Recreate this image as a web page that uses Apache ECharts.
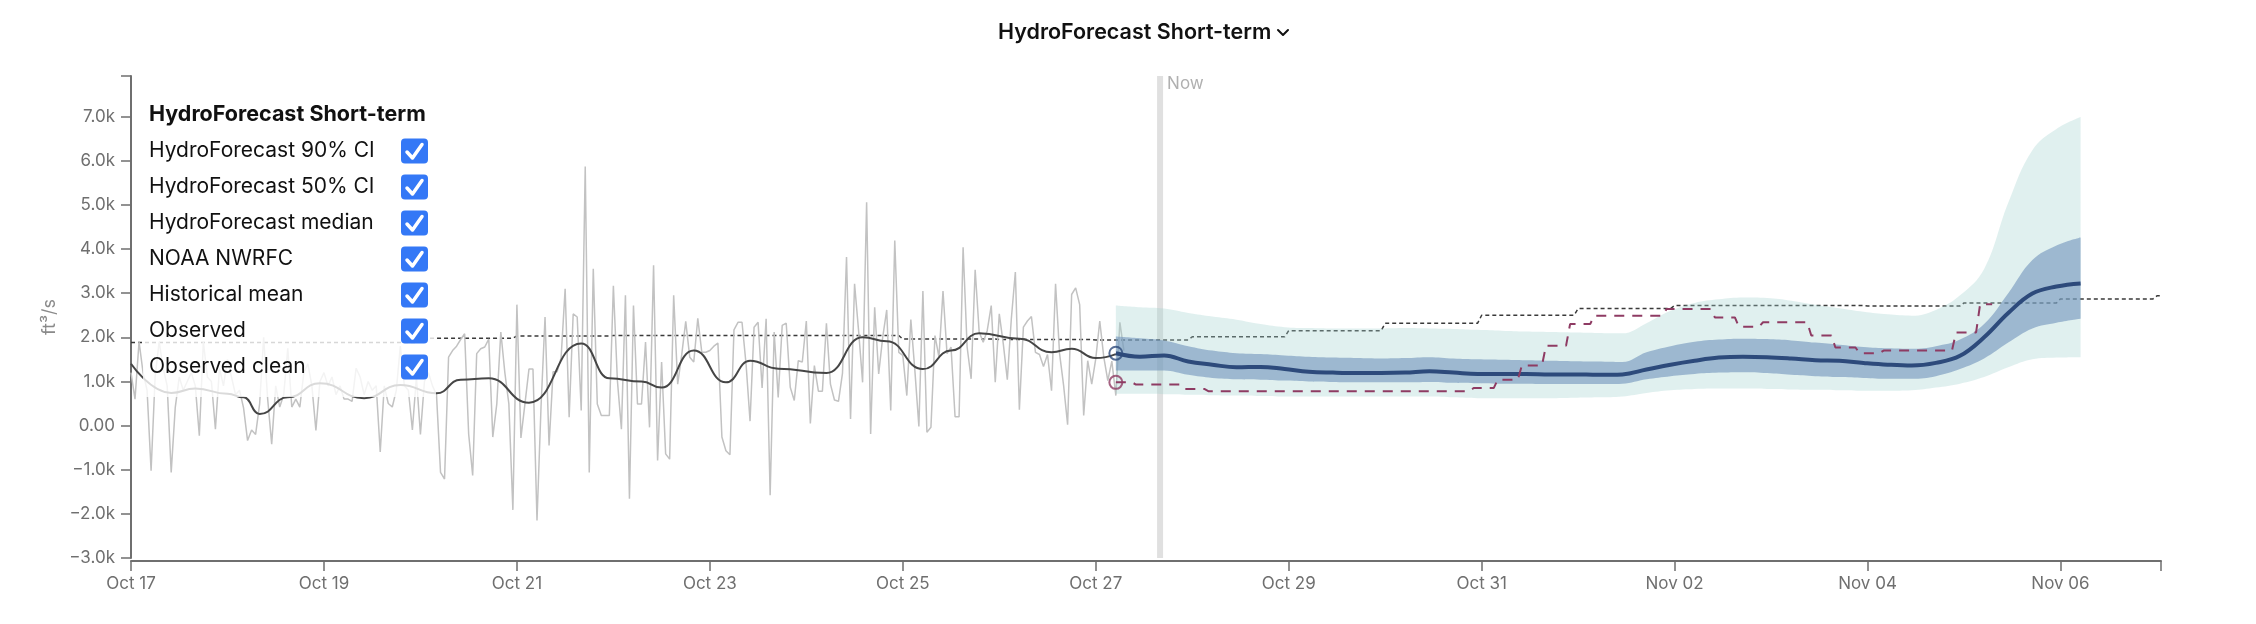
<!DOCTYPE html>
<html><head><meta charset="utf-8">
<script src="https://cdn.jsdelivr.net/npm/echarts@6/dist/echarts.min.js"></script>
<style>html,body{margin:0;padding:0;background:#fff}#c{width:2256px;height:624px}</style>
</head><body><div id="c"></div>
<script>
// ---------- DATA (flows in thousand ft³/s, time in hours since Oct 17 00:00) ----------
const xTickLabels = ['Oct 17','Oct 19','Oct 21','Oct 23','Oct 25','Oct 27','Oct 29','Oct 31','Nov 02','Nov 04','Nov 06'];
const yTickLabels = ['−3.0k','−2.0k','−1.0k','0.00','1.0k','2.0k','3.0k','4.0k','5.0k','6.0k','7.0k'];
const legendTitle = 'HydroForecast Short-term';
const legendItems = ['HydroForecast 90% CI','HydroForecast 50% CI','HydroForecast median','NOAA NWRFC','Historical mean','Observed','Observed clean'];

// hourly observed flow, Oct 17 00:00 .. Oct 27 07:00
const observedKcfs = [
 1.2,0.6,1.9,1.2,0.8,-1.02,1.1,1.9,1.3,0.9,
 -1.06,0.4,1.1,0.8,1.0,1.2,0.9,-0.23,1.9,1.1,
 1.0,-0.08,1.3,0.9,1.5,1.1,0.7,0.8,0.4,-0.34,
 -0.1,-0.2,0.49,2.0,0.6,-0.42,0.9,0.42,0.7,1.75,
 0.42,0.6,0.42,1.2,1.4,0.9,-0.11,1.0,1.2,0.9,
 1.1,0.7,0.9,0.6,0.6,0.55,1.3,1.1,0.7,1.0,
 0.8,0.9,-0.6,0.9,0.5,0.42,0.8,1.8,0.9,0.8,
 -0.1,1.1,-0.2,1.0,1.2,0.9,0.7,-1.06,-1.21,1.55,1.7,
 1.8,1.95,2.08,-0.19,-1.13,1.63,1.74,1.78,1.96,-0.26,
 0.49,2.12,1.2,0.49,-1.91,2.74,-0.28,0.49,1.28,1.28,
 -2.15,0.42,2.46,-0.45,1.22,1.22,1.54,3.10,0.19,2.53,
 2.46,0.34,5.87,-1.06,3.55,0.49,0.23,0.23,0.23,3.17,
 1.02,-0.08,2.95,-1.66,2.72,0.49,0.49,1.89,-0.04,3.63,
 -0.79,1.44,-0.64,-0.76,2.95,0.94,1.6,2.36,1.55,1.44,
 2.43,1.66,1.66,1.7,1.8,1.87,-0.26,-0.57,-0.66,2.17,
 2.34,2.34,1.40,0.10,2.23,2.34,0.85,2.42,-1.58,2.12,
 0.64,2.27,
 2.32,0.87,0.57,1.47,1.44,2.37,0.05,1.36,0.78,0.78,
 2.32,0.94,0.58,0.55,1.19,3.82,0.15,3.21,2.15,0.98,
 5.06,-0.19,2.68,1.17,2.0,2.62,0.34,4.19,1.66,1.59,
 0.68,2.40,1.25,-0.02,3.05,-0.15,-0.04,2.04,1.55,3.05,
 1.63,1.78,0.2,0.2,4.04,1.78,1.06,3.53,2.12,1.89,
 2.15,2.72,0.98,2.53,1.85,1.04,2.42,3.48,0.36,2.23,
 2.37,2.47,1.66,1.61,1.34,1.61,0.79,3.21,1.63,0.91,
 0.02,2.97,3.12,2.74,0.23,1.47,0.94,1.51,2.37,1.55,
 1.02,1.46,0.68,2.34,1.70
];

const observedCleanHours = [0,10,16,24,28,32,39,47,58,67,76,82,89,99,112,119,127,132,140,148,154,161,173,182,188,197,204,211,221,229,234,240,245];
const observedCleanKcfs  = [1.40,0.74,0.84,0.72,0.64,0.26,0.64,0.96,0.62,0.92,0.73,1.04,1.07,0.52,1.86,1.07,1.00,0.86,1.70,0.98,1.47,1.29,1.19,2.00,1.91,1.28,1.70,2.09,1.97,1.66,1.74,1.53,1.62];

// forecast every 6 h, Oct 27 05:00 .. Nov 06 05:00
const forecastHours = [245,251,257,263,269,275,281,287,293,299,305,311,317,323,329,335,341,347,353,359,365,371,377,383,389,395,401,407,413,419,425,431,437,443,449,455,461,467,473,479,485];
const medianKcfs = [1.64,1.56,1.59,1.45,1.38,1.32,1.33,1.28,1.22,1.20,1.19,1.19,1.20,1.23,1.20,1.17,1.17,1.17,1.16,1.16,1.15,1.16,1.27,1.38,1.47,1.54,1.56,1.55,1.52,1.48,1.47,1.42,1.38,1.36,1.42,1.58,2.00,2.55,2.99,3.15,3.22];
const p05Kcfs = [0.72,0.72,0.71,0.70,0.69,0.68,0.67,0.66,0.66,0.66,0.66,0.66,0.66,0.66,0.64,0.62,0.62,0.62,0.62,0.63,0.64,0.66,0.74,0.80,0.83,0.84,0.84,0.83,0.82,0.81,0.80,0.79,0.79,0.80,0.86,0.95,1.10,1.32,1.50,1.54,1.55];
const p25Kcfs = [1.25,1.25,1.25,1.15,1.08,1.05,1.04,1.02,1.00,0.99,0.98,0.98,0.98,0.99,0.97,0.96,0.95,0.95,0.94,0.94,0.94,0.95,1.05,1.12,1.17,1.20,1.21,1.19,1.15,1.12,1.10,1.08,1.06,1.06,1.12,1.28,1.52,1.88,2.20,2.33,2.42];
const p75Kcfs = [2.02,1.98,1.93,1.80,1.70,1.64,1.62,1.59,1.56,1.54,1.53,1.52,1.53,1.55,1.52,1.50,1.49,1.48,1.47,1.46,1.45,1.44,1.66,1.80,1.90,1.95,1.97,1.96,1.93,1.88,1.83,1.78,1.75,1.74,1.80,1.95,2.30,3.00,3.75,4.08,4.26];
const p95Kcfs = [2.72,2.68,2.65,2.55,2.47,2.40,2.30,2.23,2.21,2.20,2.20,2.20,2.21,2.20,2.19,2.17,2.15,2.13,2.12,2.11,2.10,2.09,2.32,2.60,2.78,2.86,2.90,2.89,2.83,2.74,2.66,2.58,2.52,2.49,2.62,2.95,3.55,5.05,6.24,6.72,6.99];

// NOAA NWRFC 6-hourly blocks
const noaaBlockStartHours = [245,250,262,268,334,340,346,352,358,364,382,394,400,406,418,424,430,436,454,460];
const noaaBlockKcfs       = [0.98,0.93,0.83,0.78,0.85,1.04,1.36,1.81,2.30,2.49,2.64,2.45,2.24,2.34,2.04,1.77,1.64,1.70,2.11,2.75];
const noaaEndHour = 463;

// historical mean, one value per day from Oct 17 to Nov 07
const histMeanDailyKcfs = [1.88,1.88,1.88,1.98,2.03,2.04,2.04,2.04,1.96,1.95,1.94,2.01,2.15,2.32,2.50,2.65,2.72,2.72,2.71,2.78,2.87,2.94];

const nowHour = 256;
const xMaxHour = 505;
const yMin = -3000, yMax = 7920;

// ---------- BUILD ----------
// series live on a (hidden) time axis so that stacking is done on the flow value;
// a visible value axis in hours carries the ticks and labels.
const HOUR = 3600 * 1000;
const K = 1000;
const pt = (h, v) => [h * HOUR, v * K];
const observedData = observedKcfs.map((v, h) => pt(h, v));
const cleanData = observedCleanHours.map((h, i) => pt(h, observedCleanKcfs[i]));
const medianData = forecastHours.map((h, i) => pt(h, medianKcfs[i]));
const p05Data = forecastHours.map((h, i) => pt(h, p05Kcfs[i]));
const band90Data = forecastHours.map((h, i) => pt(h, p95Kcfs[i] - p05Kcfs[i]));
const p25Data = forecastHours.map((h, i) => pt(h, p25Kcfs[i]));
const band50Data = forecastHours.map((h, i) => pt(h, p75Kcfs[i] - p25Kcfs[i]));

const noaaData = [];
noaaBlockStartHours.forEach((h, i) => {
  const v = noaaBlockKcfs[i];
  noaaData.push(pt(h, v));
  if (i < noaaBlockStartHours.length - 1) noaaData.push(pt(noaaBlockStartHours[i + 1] - 1, v));
  else noaaData.push(pt(noaaEndHour, v));
});
const histData = [];
histMeanDailyKcfs.forEach((v, d) => {
  histData.push(pt(d * 24, v));
  histData.push(pt(Math.min(d * 24 + 23, xMaxHour), v));
});
histData.push(pt(xMaxHour, histMeanDailyKcfs[histMeanDailyKcfs.length - 1]));

const FONT = 'Inter, "Noto Sans", sans-serif';
const AXIS_COLOR = '#6f6f6f';

const chart = echarts.init(document.getElementById('c'), null, { renderer: 'canvas' });

const noLine = { opacity: 0, width: 0 };
const option = {
  animation: false,
  backgroundColor: '#ffffff',
  title: {
    text: 'HydroForecast Short-term',
    left: 993, top: 17,
    textStyle: { fontFamily: FONT, fontSize: 21.5, fontWeight: 600, color: '#111' }
  },
  grid: { left: 131, right: 95, top: 76, bottom: 66, containLabel: false },
  xAxis: [
    { type: 'time', min: 0, max: xMaxHour * HOUR, show: false, position: 'top' },
    {
      type: 'value', min: 0, max: xMaxHour, interval: 48, offset: 3, position: 'bottom',
      axisLine: { show: true, lineStyle: { color: AXIS_COLOR, width: 2 } },
      axisTick: { show: true, length: 10, lineStyle: { color: AXIS_COLOR, width: 1.5 } },
      splitLine: { show: false },
      axisLabel: {
        margin: 14, fontFamily: FONT, fontSize: 17, color: AXIS_COLOR,
        formatter: v => (v % 48 === 0 ? (xTickLabels[v / 48] || '') : '')
      }
    }
  ],
  yAxis: {
    type: 'value', min: yMin, max: yMax, interval: 1000,
    name: 'ft³/s', nameLocation: 'middle', nameGap: 70, nameRotate: 90,
    nameTextStyle: { fontFamily: FONT, fontSize: 18, color: '#8a8a8a' },
    axisLine: { show: true, lineStyle: { color: AXIS_COLOR, width: 2 } },
    axisTick: { show: true, length: 10, lineStyle: { color: AXIS_COLOR, width: 1.5 } },
    splitLine: { show: false },
    axisLabel: {
      margin: 16, fontFamily: FONT, fontSize: 17, color: AXIS_COLOR,
      formatter: v => (v % 1000 === 0 ? (yTickLabels[(v - yMin) / 1000] || '') : '')
    }
  },
  series: [
    { name: 'Now', type: 'line', data: [[nowHour * HOUR, yMin], [nowHour * HOUR, yMax]], symbol: 'none', silent: true,
      lineStyle: { color: '#e0e0e0', width: 6 }, z: 1 },
    { name: 'Historical mean', type: 'line', data: histData, symbol: 'none',
      lineStyle: { color: '#3a3a3a', width: 1.5, type: [4, 3] }, z: 2 },
    { name: 'Observed', type: 'line', data: observedData, symbol: 'none',
      lineStyle: { color: '#c2c2c2', width: 1.5 }, z: 2 },
    { name: 'p05', type: 'line', stack: 'ci90', data: p05Data,
      symbol: 'none', smooth: 0.4, lineStyle: noLine, z: 3 },
    { name: 'HydroForecast 90% CI', type: 'line', stack: 'ci90', data: band90Data,
      symbol: 'none', smooth: 0.4, lineStyle: noLine, areaStyle: { color: 'rgba(160,210,205,0.33)', opacity: 1 }, z: 3 },
    { name: 'p25', type: 'line', stack: 'ci50', data: p25Data,
      symbol: 'none', smooth: 0.4, lineStyle: noLine, z: 4 },
    { name: 'HydroForecast 50% CI', type: 'line', stack: 'ci50', data: band50Data,
      symbol: 'none', smooth: 0.4, lineStyle: noLine, areaStyle: { color: 'rgba(112,147,186,0.6)', opacity: 1 }, z: 4 },
    { name: 'Observed clean', type: 'line', data: cleanData, symbol: 'none', smooth: 0.5, smoothMonotone: 'x',
      lineStyle: { color: '#454545', width: 2 }, z: 5 },
    { name: 'HydroForecast median', type: 'line', data: medianData, symbol: 'none', smooth: 0.4,
      lineStyle: { color: '#2d4a7b', width: 4 }, z: 6 },
    { name: 'NOAA NWRFC', type: 'line', data: noaaData, symbol: 'none',
      lineStyle: { color: '#8e3b63', width: 2, type: [10, 8] }, z: 7 },
    { name: 'median start', type: 'scatter', data: [medianData[0]], symbol: 'circle', symbolSize: 13,
      itemStyle: { color: 'rgba(255,255,255,0)', borderColor: '#2d4a7b', borderWidth: 2 }, z: 8, silent: true },
    { name: 'NOAA start', type: 'scatter', data: [noaaData[0]], symbol: 'circle', symbolSize: 13,
      itemStyle: { color: 'rgba(255,255,255,0)', borderColor: '#8e3b63', borderWidth: 2 }, z: 8, silent: true }
  ]
};
chart.setOption(option);

// ---------- overlays: title chevron, "Now" label, legend panel ----------
const nowPt = chart.convertToPixel({ xAxisIndex: 0, yAxisIndex: 0 }, [nowHour * HOUR, yMax]);
const graphics = [];
graphics.push({ type: 'polyline', z: 50, shape: { points: [[1278, 30], [1283, 35], [1288, 30]] },
  style: { stroke: '#111', lineWidth: 2, fill: null, lineCap: 'round', lineJoin: 'round' } });
graphics.push({ type: 'text', z: 50, x: nowPt[0] + 7, y: nowPt[1] + 8,
  style: { text: 'Now', fontFamily: FONT, fontSize: 17, fill: '#b0b0b0', verticalAlign: 'middle', align: 'left' } });

const LX = 143, LY = 95, LW = 293, LH = 302;
graphics.push({ type: 'rect', z: 60, shape: { x: LX, y: LY, width: LW, height: LH },
  style: { fill: 'rgba(255,255,255,0.8)' } });
graphics.push({ type: 'text', z: 61, x: 149, y: 115,
  style: { text: legendTitle, fontFamily: FONT, fontSize: 21.5, fontWeight: 700, fill: '#111', verticalAlign: 'middle' } });
legendItems.forEach((name, i) => {
  const cy = 151 + 36 * i;
  graphics.push({ type: 'text', z: 61, x: 149, y: cy,
    style: { text: name, fontFamily: FONT, fontSize: 21, fill: '#111', verticalAlign: 'middle' } });
  graphics.push({ type: 'rect', z: 61, shape: { x: 401, y: cy - 12.5, width: 27, height: 25, r: 4 },
    style: { fill: '#3478f6' } });
  graphics.push({ type: 'polyline', z: 62,
    shape: { points: [[407, cy + 1], [412.5, cy + 7], [422, cy - 6.5]] },
    style: { stroke: '#fff', lineWidth: 3.5, fill: null, lineCap: 'round', lineJoin: 'round' } });
});
chart.setOption({ graphic: graphics });
</script>
</body></html>
